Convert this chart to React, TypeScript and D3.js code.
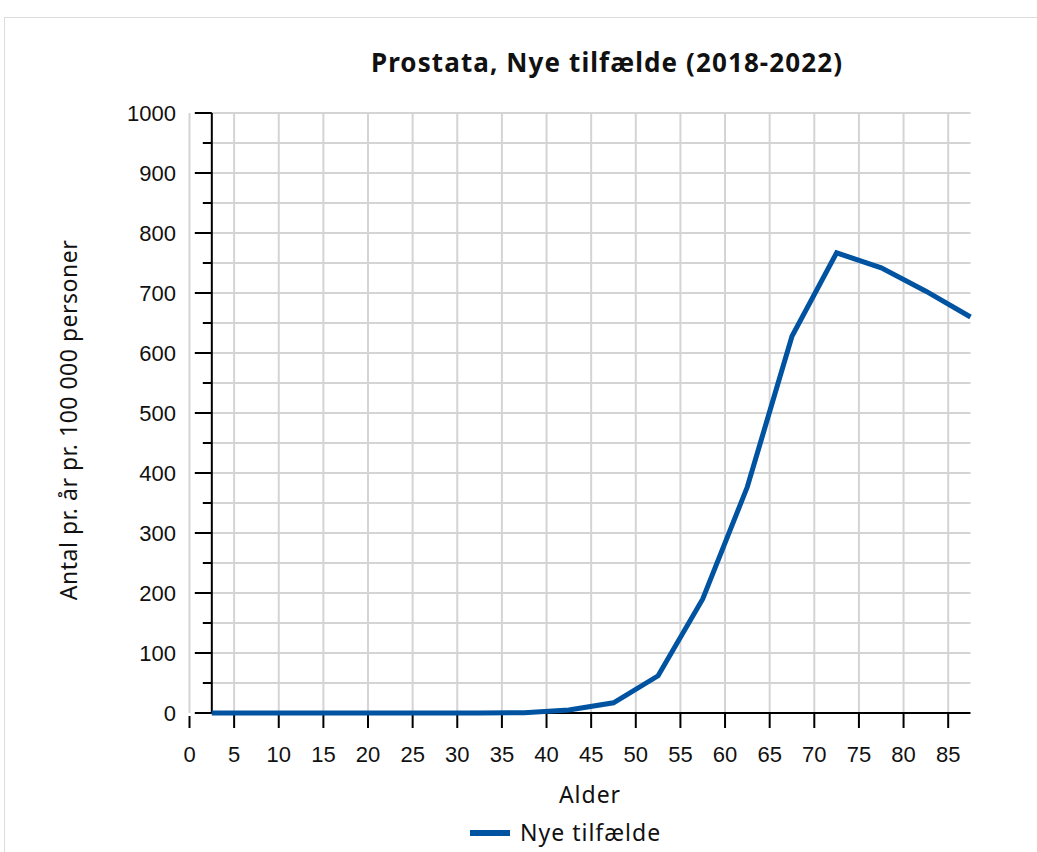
import React from "react";
import * as d3 from "d3";

const ages = [2.5, 7.5, 12.5, 17.5, 22.5, 27.5, 32.5, 37.5, 42.5, 47.5, 52.5, 57.5, 62.5, 67.5, 72.5, 77.5, 82.5, 87.5];
const newCases = [0, 0, 0, 0, 0, 0, 0, 0.5, 5, 17, 62, 190, 377, 628, 767, 742, 703, 660];
const xTicks = [0, 5, 10, 15, 20, 25, 30, 35, 40, 45, 50, 55, 60, 65, 70, 75, 80, 85];
const yTicks = [0, 100, 200, 300, 400, 500, 600, 700, 800, 900, 1000];
const yMinorTicks = [50, 150, 250, 350, 450, 550, 650, 750, 850, 950];
const title = "Prostata, Nye tilfælde (2018-2022)";
const xTitle = "Alder";
const yTitle = "Antal pr. år pr. 100 000 personer";
const seriesName = "Nye tilfælde";

export default function App() {
  const W = 1037, H = 852;
  const x = d3.scaleLinear().domain([0, 87.5]).range([189.5, 970.5]);
  const y = d3.scaleLinear().domain([0, 1000]).range([713, 113]);
  const axisX = x(2.5);
  const line = d3.line<number>().x((_, i) => x(ages[i])).y((d) => y(d));
  const blue = "#0053A0";
  const grid = "#d4d4d4";
  const tickFont = "'Liberation Sans', Arial, sans-serif";
  const textFont = "'Noto Sans', 'Open Sans', sans-serif";
  return (
    <svg width={W} height={H} style={{ position: "absolute", left: 0, top: 0, background: "#fff" }}>
      <rect x={4.5} y={17.5} width={1100} height={900} fill="#fff" stroke="#dcdcdc" />
      <text x={607} y={72} textAnchor="middle" fontFamily={textFont} fontWeight="bold" fontSize={26} letterSpacing={1.1} fill="#111">{title}</text>
      {[...yTicks, ...yMinorTicks].filter((v) => v > 0).map((v) => (
        <line key={"hg" + v} x1={axisX} x2={x(87.5)} y1={y(v)} y2={y(v)} stroke={grid} strokeWidth={2} />
      ))}
      {xTicks.map((v) => (
        <line key={"vg" + v} x1={x(v)} x2={x(v)} y1={y(1000)} y2={v === 0 ? 713 : y(0)} stroke={grid} strokeWidth={2} />
      ))}
      <line x1={axisX} x2={axisX} y1={y(1000)} y2={y(0)} stroke="#000" strokeWidth={2} />
      {yTicks.map((v) => (
        <g key={"yt" + v}>
          <line x1={axisX - 17} x2={axisX} y1={y(v)} y2={y(v)} stroke="#000" strokeWidth={2} />
          <text x={176} y={y(v)} dy="0.36em" textAnchor="end" fontFamily={tickFont} fontSize={22} fill="#111">{v}</text>
        </g>
      ))}
      {yMinorTicks.map((v) => (
        <line key={"ym" + v} x1={axisX - 9} x2={axisX} y1={y(v)} y2={y(v)} stroke="#000" strokeWidth={2} />
      ))}
      <line x1={axisX} x2={x(87.5)} y1={y(0)} y2={y(0)} stroke="#000" strokeWidth={2} />
      {xTicks.map((v) => (
        <g key={"xt" + v}>
          <line x1={x(v)} x2={x(v)} y1={v === 0 ? y(0) + 3 : y(0)} y2={y(0) + 15} stroke="#000" strokeWidth={2} />
          <text x={x(v)} y={762} textAnchor="middle" fontFamily={tickFont} fontSize={22} fill="#111">{v}</text>
        </g>
      ))}
      <path d={line(newCases) || ""} fill="none" stroke={blue} strokeWidth={5} strokeLinejoin="miter" />
      <text x={590} y={803} textAnchor="middle" fontFamily={textFont} fontSize={23} letterSpacing={1} fill="#111">{xTitle}</text>
      <text transform={`translate(77,${420}) rotate(-90)`} textAnchor="middle" fontFamily={textFont} fontSize={23} letterSpacing={0.5} fill="#111">{yTitle}</text>
      <line x1={470} x2={510} y1={833} y2={833} stroke={blue} strokeWidth={6} />
      <text x={520} y={841} fontFamily={textFont} fontSize={23} letterSpacing={1} fill="#111">{seriesName}</text>
    </svg>
  );
}
